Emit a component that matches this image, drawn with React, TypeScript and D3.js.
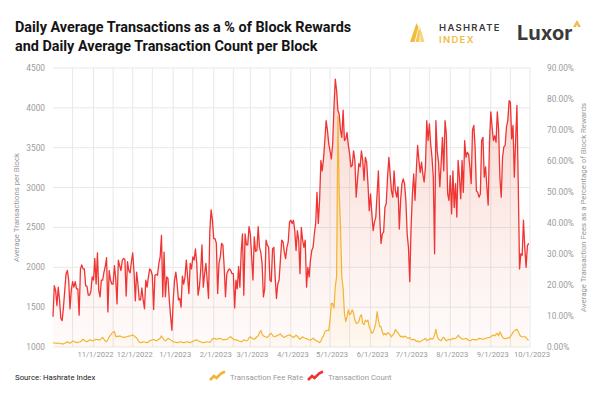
import React from "react";
import * as d3 from "d3";

// Daily average transaction count per block, 10/1/2022 .. 9/30/2023
const transactionCount: number[] = [
  1380, 1770, 1710, 1520, 1750, 1590, 1360, 1330, 1500, 1710,
  1920, 1960, 1840, 1480, 1710, 1820, 1750, 1820, 1730, 1730,
  1400, 1980, 2030, 1980, 1980, 1770, 1760, 1650, 1650, 1700, 1880, 1840,
  2110, 1790, 2180, 1710, 1630, 1840, 1840, 1940, 2010, 2120,
  1440, 1960, 1840, 1790, 1790, 2020, 1860, 1540, 2090, 2020,
  1960, 2090, 2110, 2100, 1640, 2070, 1960, 1930, 2070, 2180,
  1940, 1580, 1940, 1790, 1590, 1590, 1740, 1590, 1480, 1840,
  1750, 1880, 1980, 1960, 1900, 1470, 1900, 1910, 1900, 2050,
  2130, 2400, 1630, 2190, 1630, 1880, 1860, 1590, 1380, 1210,
  1590, 1840, 1940, 1790, 1590, 1610, 1500, 1890, 1790, 1880,
  2090, 1880, 1670, 2050, 1980, 2130, 2090, 2230, 2050, 1650,
  1750, 1960, 2280, 1750, 1920, 2050, 1840, 1610, 2460, 2720,
  2590, 2360, 2360, 2300, 1670, 2050, 2130, 2300, 2280, 2000,
  1630, 1920, 1960, 1980, 1960, 1920, 1920, 1490, 1840, 1730,
  2010, 1750, 2190, 2420, 1650, 2420, 2280, 2280, 2510, 2420,
  2130, 1840, 2380, 2200, 2210, 2510, 2250, 2190, 2050, 1630,
  1730, 2340, 2280, 2250, 1840, 1820, 2230, 2250, 1880, 1610,
  1790, 1840, 2090, 2340, 2320, 2190, 2110, 2250, 2320, 2570,
  2590,
  2550, 2590, 2460, 2210, 2460, 2340, 1920, 2500, 2340, 2250,
  2340, 1750, 2000, 1880, 2090, 2210, 2250, 2420, 2550, 2940,
  2550, 2840, 3340, 3210, 3360, 3590, 3840, 3720, 3550, 3460,
  3360, 3550, 4010, 4360, 4220, 3970, 3920, 3720, 3630, 3970,
  3590, 3610, 3690, 3530, 3420, 3260, 3280, 3460, 3340, 2880, 3100, 3300,
  3260, 3460, 3340, 3090, 3380, 3320, 3050, 2710, 2920, 2670,
  2460, 2570, 2630, 2920, 3210, 2630, 2300, 2420, 2440, 2750,
  2800, 3130, 3380, 3170, 2960, 2880, 3210, 2960, 2880, 3010,
  2480, 2840, 3050, 3110, 3050, 2840, 2420, 2250, 1820, 2500,
  2920, 3170, 2840, 3210, 3530, 3340, 3190, 3320, 3170, 3070,
  3260, 3840, 3590, 3800, 3550, 3380, 3130, 2170, 3840, 3460,
  3320, 3010, 3300, 3630, 3210, 3840, 3670, 2920,
  2840, 3150, 2670, 3210, 2750, 3050, 2630, 3340, 3130, 2860,
  3340, 2940, 3590, 3380, 3440, 3420, 3260, 3050, 3720, 3780,
  3510, 2960, 2940, 2880, 2920, 3590, 3630, 3130, 3260, 3010,
  2780, 3570, 3950, 3760, 3590, 3650, 3570, 3950, 3720, 3110,
  2880, 3380, 3510, 3530, 3760, 3840, 4090, 4070, 3610, 3780,
  3130, 3590, 4030, 3050, 1980, 2170, 2150, 2590, 2250, 2000,
  2270, 2300,
];

// Daily transaction fees as % of block rewards, same days
const feeRate: number[] = [
  1.4, 1.3, 1.2, 1.2, 1.3, 1.2, 1.1, 1.0, 1.0, 1.2,
  1.4, 1.7, 1.4, 1.2, 1.5, 1.9, 1.8, 1.6, 1.4, 1.5,
  1.6, 1.7, 2.1, 2.5, 2.2, 1.8, 1.7, 2.0, 2.3, 2.2,
  2.0, 2.1, 2.3, 2.5, 2.4, 2.3, 2.3, 2.7, 3.1, 2.5,
  1.9, 1.7, 2.4, 3.3, 3.8, 4.4, 4.8, 5.0, 3.3, 3.5,
  3.4, 3.6, 3.4, 3.2, 3.1, 3.2, 3.3, 3.4, 3.5, 3.6,
  3.7, 3.9, 3.6, 3.2, 2.9, 2.2, 1.6, 1.4, 1.5, 1.7,
  1.6, 1.5, 1.4, 1.6, 2.0, 2.2, 2.3, 2.5, 2.2, 2.0,
  2.2, 2.5, 2.8, 3.6, 2.9, 2.3, 2.0, 2.3, 2.8, 2.6,
  2.3, 2.0, 1.7, 1.6, 1.5, 1.4, 1.5, 1.6, 1.7, 1.5,
  1.4, 1.5, 1.6, 1.7, 1.5, 1.4, 1.6, 1.9, 2.0, 2.2,
  2.3, 2.0, 1.8, 1.7, 1.5, 1.4, 1.5, 1.6, 1.7, 1.6,
  1.5, 2.0, 2.6, 2.8, 2.7, 2.5, 2.6, 2.7, 2.8, 2.6,
  2.3, 2.4, 2.5, 2.4, 2.7, 3.1, 3.3, 2.9, 2.5, 2.4,
  2.3, 2.2, 2.0, 1.8, 1.7, 1.9, 2.3, 2.1, 2.0, 2.2,
  3.0, 3.3, 2.9, 2.6, 2.5, 2.9, 3.3, 3.6, 4.6, 5.3,
  4.2, 3.6, 3.4, 3.2, 3.1, 3.6, 4.2, 4.4, 3.8, 3.3,
  3.4, 3.6, 3.8, 4.0, 4.2, 3.7, 3.3, 3.1, 3.3, 3.6,
  3.8, 3.9, 3.7,
  3.3, 3.1, 3.4, 3.8, 3.5, 2.9, 2.5, 2.9, 3.3, 3.0,
  2.8, 2.7, 2.5, 2.3, 2.2, 2.5, 2.8, 2.5, 2.1, 2.0,
  1.7, 1.4, 2.0, 3.0, 3.6, 4.9, 5.3, 5.4, 5.3, 8.7,
  14.1, 14.0, 12.5, 19.5, 22.7, 74.4, 49.6, 38.8, 22.5, 19.0,
  10.9, 8.2, 9.8, 12.0, 10.4, 10.9, 12.0, 10.9, 8.7, 7.7,
  7.7, 8.2, 9.8, 10.4, 7.7, 7.2, 8.7, 8.2, 8.7, 6.6,
  5.5, 4.4, 4.9, 6.1, 7.7, 11.4, 8.7, 6.6, 6.6, 4.9,
  3.9, 4.4, 3.9, 4.6, 4.4, 3.9, 3.3, 3.9, 4.4, 5.7,
  4.9, 4.6, 3.9, 3.3, 3.5, 3.1, 3.5, 3.3, 3.0, 2.8,
  3.1, 2.5, 2.3, 2.5, 2.3, 1.8, 2.0, 1.6, 1.8, 2.0,
  2.3, 2.5, 2.8, 2.0, 2.3, 2.5, 2.8, 2.5, 2.8, 3.9,
  5.7, 3.5, 2.5, 2.3, 2.0, 2.8, 3.1, 2.5, 2.0, 2.3,
  2.5,
  2.3, 2.5, 2.8, 2.6, 2.8, 3.1, 3.8, 3.3, 2.9, 2.6,
  2.5, 2.6, 2.8, 2.5, 2.2, 2.0, 2.2, 2.5, 2.4, 2.3,
  2.3, 2.5, 2.8, 2.7, 2.6, 2.5, 2.6, 2.8, 2.9, 3.0,
  3.1, 3.3, 3.6, 3.9, 3.6, 4.1, 4.4, 3.6, 4.9, 4.0,
  3.2, 2.8, 2.7, 2.8, 3.0, 2.9, 3.3, 4.0, 4.8, 5.2,
  5.5, 5.7, 5.0, 4.0, 3.4, 3.3, 3.3, 3.3, 3.1, 2.4,
  2.3,
];

const leftTicks = [1000, 1500, 2000, 2500, 3000, 3500, 4000, 4500];
const rightTicks = [0, 10, 20, 30, 40, 50, 60, 70, 80, 90];
const xTickLabels = [
  "11/1/2022", "12/1/2022", "1/1/2023", "2/1/2023", "3/1/2023", "4/1/2023",
  "5/1/2023", "6/1/2023", "7/1/2023", "8/1/2023", "9/1/2023", "10/1/2023",
];

const RED = "#ef3434";
const GOLD = "#f3b433";
const GRID = "#e8e8e8";
const AXIS_TEXT = "#9a9a9a";
const FONT = "Roboto, 'Noto Sans', sans-serif";

export default function App() {
  const L = 53, R = 530, T = 68, B = 347;
  const start = new Date(2022, 9, 1);
  const end = new Date(2023, 9, 1);
  const x = d3.scaleTime().domain([start, end]).range([L, R]);
  const yL = d3.scaleLinear().domain([1000, 4500]).range([B, T]);
  const yR = d3.scaleLinear().domain([0, 90]).range([B, T]);
  const parse = d3.timeParse("%m/%d/%Y");

  const redData = transactionCount.map((v, i) => ({ d: d3.timeDay.offset(start, i), v }));
  const feeData = feeRate.map((v, i) => ({ d: d3.timeDay.offset(start, i), v }));

  const redLine = d3.line<{ d: Date; v: number }>().x((p) => x(p.d)).y((p) => yL(p.v));
  const redArea = d3.area<{ d: Date; v: number }>().x((p) => x(p.d)).y0(B).y1((p) => yL(p.v));
  const feeLine = d3.line<{ d: Date; v: number }>().x((p) => x(p.d)).y((p) => yR(p.v));
  const feeArea = d3.area<{ d: Date; v: number }>().x((p) => x(p.d)).y0(B).y1((p) => yR(p.v));

  // vertical grid: 1st and 16th of each month
  const vGrid: Date[] = [];
  d3.timeMonth.range(start, end).forEach((m) => {
    if (m > start) vGrid.push(m);
    vGrid.push(d3.timeDay.offset(m, 15));
  });
  vGrid.push(end);

  const fmtPct = (v: number) => `${v.toFixed(2)}%`;

  return (
    <svg
      width={600}
      height={393}
      style={{ position: "fixed", left: 0, top: 0, background: "#fff" }}
      fontFamily={FONT}
    >
      <defs>
        <linearGradient id="redFill" gradientUnits="userSpaceOnUse" x1="0" y1={T} x2="0" y2={B}>
          <stop offset="0" stopColor="#e8735a" stopOpacity="0.32" />
          <stop offset="1" stopColor="#f2a08c" stopOpacity="0.04" />
        </linearGradient>
        <linearGradient id="goldFill" gradientUnits="userSpaceOnUse" x1="0" y1={T + 30} x2="0" y2={B}>
          <stop offset="0" stopColor="#f6c24a" stopOpacity="0.45" />
          <stop offset="1" stopColor="#f6c24a" stopOpacity="0.05" />
        </linearGradient>
      </defs>
      <rect x={0} y={0} width={600} height={393} fill="#fff" />

      {/* Title */}
      <text x={15} y={32} fontFamily="Roboto, sans-serif" fontWeight={700} fontSize={14.4} fill="#141414">
        Daily Average Transactions as a % of Block Rewards
      </text>
      <text x={15} y={51} fontFamily="Roboto, sans-serif" fontWeight={700} fontSize={14.4} fill="#141414">
        and Daily Average Transaction Count per Block
      </text>

      {/* Hashrate Index logo */}
      <g>
        <polygon points="410,42 414.5,42 418.5,27 416.5,23" fill="#f0bc3a" />
        <polygon points="415.5,42 419.5,42 420,31 418.8,28" fill="#f4c856" />
        <polygon points="420.5,42 424.5,42 419.5,25 419.8,29" fill="#f7d679" />
        <text x={439} y={31} fontFamily="Inter, Roboto, sans-serif" fontWeight={600} fontSize={9.5} letterSpacing={1.3} fill="#3a3a3a">
          HASHRATE
        </text>
        <text x={439} y={43} fontFamily="Inter, Roboto, sans-serif" fontWeight={600} fontSize={9.5} letterSpacing={1.3} fill="#f0bd45">
          INDEX
        </text>
      </g>
      {/* Luxor logo */}
      <g>
        <text x={517} y={40} fontFamily="Inter, Roboto, sans-serif" fontWeight={700} fontSize={20} fill="#3a3a3a">
          Luxor
        </text>
        <polygon points="573,27 577,20 581,27" fill="#f0bd45" />
        <polygon points="576,27 577,24.5 578,27" fill="#fff" />
      </g>

      {/* Grid */}
      {leftTicks.map((t) => (
        <line key={"h" + t} x1={L} x2={R} y1={yL(t)} y2={yL(t)} stroke={GRID} strokeWidth={1} />
      ))}
      {vGrid.map((d, i) => (
        <line key={"v" + i} x1={x(d)} x2={x(d)} y1={T} y2={B} stroke={GRID} strokeWidth={1} />
      ))}

      {/* Areas */}
      <path d={redArea(redData) || ""} fill="url(#redFill)" />
      <path d={feeArea(feeData) || ""} fill="url(#goldFill)" />

      {/* Lines */}
      <path d={redLine(redData) || ""} fill="none" stroke={RED} strokeWidth={1.3} strokeLinejoin="round" />
      <path d={feeLine(feeData) || ""} fill="none" stroke={GOLD} strokeWidth={1.2} strokeLinejoin="round" />

      {/* Left axis */}
      {leftTicks.map((t) => (
        <text key={"l" + t} x={45} y={yL(t) + 3} textAnchor="end" fontSize={8.3} fill={AXIS_TEXT}>
          {t}
        </text>
      ))}
      <text
        transform={`translate(19,${(T + B) / 2}) rotate(-90)`}
        textAnchor="middle"
        fontSize={7.8}
        fill={AXIS_TEXT}
      >
        Average Transactions per Block
      </text>

      {/* Right axis */}
      {rightTicks.map((t) => (
        <text key={"r" + t} x={547} y={yR(t) + 3} textAnchor="start" fontSize={8.3} fill={AXIS_TEXT}>
          {fmtPct(t)}
        </text>
      ))}
      <text
        transform={`translate(586,${(T + B) / 2}) rotate(-90)`}
        textAnchor="middle"
        fontSize={7.8}
        fill={AXIS_TEXT}
      >
        Average Transaction Fees as a Percentage of Block Rewards
      </text>

      {/* X axis labels */}
      {xTickLabels.map((lab) => {
        const d = parse(lab.split("/").map((s, i) => (i < 2 ? s.padStart(2, "0") : s)).join("/")) as Date;
        return (
          <text key={lab} x={x(d) + 2} y={357} textAnchor="middle" fontSize={7.6} fill={AXIS_TEXT}>
            {lab}
          </text>
        );
      })}

      {/* Source */}
      <text x={15} y={380} fontSize={7.8} fill="#222">
        Source: Hashrate Index
      </text>

      {/* Legend */}
      <g>
        <polyline points="210,380 214,376 216.5,378 221,373.5 225,371.5" fill="none" stroke={GOLD} strokeWidth={2.6} strokeLinejoin="miter" />
        <text x={230} y={380} fontSize={7.8} fill={AXIS_TEXT}>
          Transaction Fee Rate
        </text>
        <polyline points="308,380 312,376 314.5,378 319,373.5 323,371.5" fill="none" stroke={RED} strokeWidth={2.6} strokeLinejoin="miter" />
        <text x={328} y={380} fontSize={7.8} fill={AXIS_TEXT}>
          Transaction Count
        </text>
      </g>
    </svg>
  );
}
